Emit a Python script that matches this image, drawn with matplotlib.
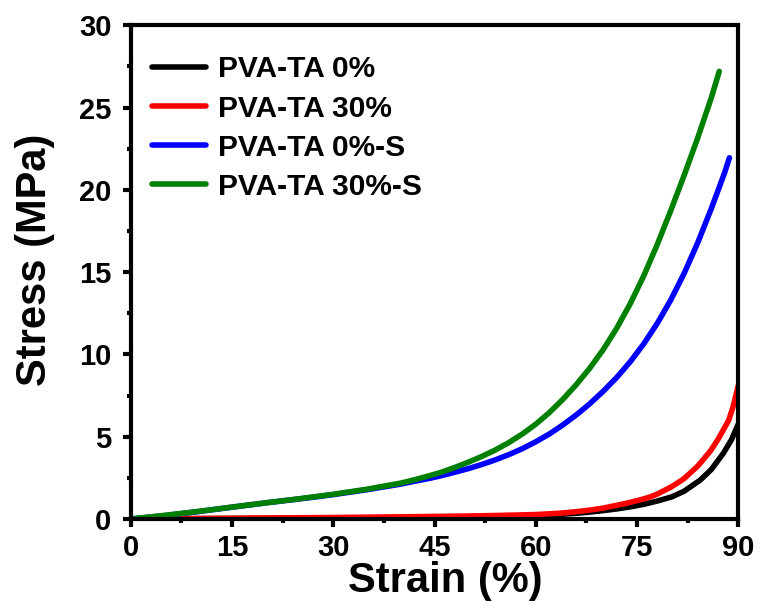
import matplotlib
matplotlib.use("Agg")
import matplotlib.pyplot as plt
from matplotlib.ticker import MultipleLocator

plt.rcParams['font.family'] = ['Liberation Sans', 'DejaVu Sans']
plt.rcParams['font.weight'] = 'bold'

# strain (%) / stress (MPa)
strain_0 = [0, 10, 20, 30, 40, 50, 55, 60, 63, 66.1, 68, 70, 72, 74.2, 76, 78, 80.2, 82, 84.4, 86, 87.8, 89, 90]
stress_0 = [0, 0.02, 0.04, 0.06, 0.09, 0.13, 0.16, 0.21, 0.265, 0.35, 0.42, 0.51, 0.61, 0.75, 0.89, 1.09, 1.35,
            1.69, 2.37, 3.0, 3.99, 4.81, 5.75]

strain_30 = [0, 10, 20, 30, 40, 50, 55, 60, 63.6, 66, 68, 70, 71, 72, 74, 76, 77, 78, 80, 81.7, 82, 84, 85.6,
             86, 87, 88, 88.6, 89.2, 89.6, 90]
stress_30 = [0, 0.03, 0.06, 0.09, 0.13, 0.18, 0.22, 0.27, 0.35, 0.445, 0.54, 0.66, 0.75, 0.83, 1.01, 1.22, 1.35,
             1.51, 1.93, 2.37, 2.46, 3.21, 3.99, 4.2, 4.83, 5.56, 6.0, 6.76, 7.4, 8.1]

strain_0s = [0, 5, 10, 15, 20, 25, 30, 35, 40, 42, 44.3, 46, 48, 50, 52, 54, 56, 58, 60, 62, 64, 66, 68, 70,
             72, 74, 76, 78, 80, 82, 84, 86, 88, 88.7]
stress_0s = [0, 0.2, 0.45, 0.72, 0.98, 1.22, 1.48, 1.78, 2.12, 2.29, 2.47, 2.63, 2.84, 3.06, 3.31, 3.59, 3.91,
             4.27, 4.69, 5.16, 5.71, 6.32, 7.0, 7.76, 8.6, 9.55, 10.64, 11.88, 13.3, 14.93, 16.78, 18.84,
             21.05, 21.95]

strain_30s = [0, 5, 10, 15, 20, 25, 30, 35, 40, 42, 44, 46, 48, 50, 52, 54, 56, 58, 60, 62, 64, 66, 68, 70,
              72, 74, 76, 78, 80, 82, 84, 86, 87.2]
stress_30s = [0, 0.22, 0.46, 0.72, 0.98, 1.23, 1.5, 1.81, 2.18, 2.38, 2.6, 2.84, 3.13, 3.45, 3.8, 4.19, 4.64,
              5.16, 5.76, 6.46, 7.26, 8.16, 9.16, 10.29, 11.59, 13.08, 14.77, 16.67, 18.73, 20.89, 23.15,
              25.57, 27.2]

labels = ['PVA-TA 0%', 'PVA-TA 30%', 'PVA-TA 0%-S', 'PVA-TA 30%-S']
colors = ['black', 'red', 'blue', 'green']

fig = plt.figure(figsize=(7.61, 6.16), dpi=100)
ax = fig.add_axes([0.172, 0.1575, 0.798, 0.8015])

series = [(strain_0, stress_0), (strain_30, stress_30), (strain_0s, stress_0s), (strain_30s, stress_30s)]
for (x, y), lab, c in zip(series, labels, colors):
    ax.plot(x, y, color=c, lw=4, label=lab, solid_capstyle='round')

ax.set_xlim(0, 90)
ax.set_ylim(0, 30)
ax.xaxis.set_major_locator(MultipleLocator(15))
ax.xaxis.set_minor_locator(MultipleLocator(7.5))
ax.yaxis.set_major_locator(MultipleLocator(5))
ax.yaxis.set_minor_locator(MultipleLocator(2.5))

for sp in ax.spines.values():
    sp.set_linewidth(3)
ax.tick_params(which='major', direction='out', length=6, width=3, labelsize=21)
ax.tick_params(axis='x', which='major', pad=4.5)
ax.tick_params(axis='y', which='major', pad=8)
ax.tick_params(which='minor', direction='out', length=3, width=3)
ax.tick_params(top=False, right=False, which='both')

ax.set_xlabel('Strain (%)', fontsize=30, fontweight='bold')
ax.set_ylabel('Stress (MPa)', fontsize=30, fontweight='bold')
ax.xaxis.set_label_coords(0.517, -0.085)
ax.yaxis.set_label_coords(-0.125, 0.525)

ax.legend(loc='upper left', frameon=False, fontsize=21.5, handlelength=1.8,
          handletextpad=0.4, labelspacing=0.37, borderaxespad=0,
          bbox_to_anchor=(0.015, 0.963))

fig.savefig('out.png', dpi=100)
